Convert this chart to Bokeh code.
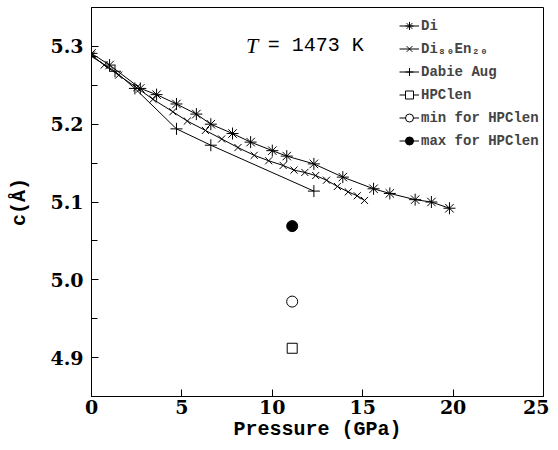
from bokeh.plotting import figure
from bokeh.models import Range1d, Label, Legend, LegendItem, FixedTicker, NumeralTickFormatter
from bokeh.embed import file_html
from bokeh.resources import INLINE

# Di
di_p = [0.0, 1.0, 2.7, 3.6, 4.7, 5.8, 6.6, 7.8, 8.8, 10.0, 10.8, 12.3, 13.9, 15.6, 16.5, 17.9, 18.8, 19.8]
di_c = [5.291, 5.276, 5.246, 5.238, 5.226, 5.213, 5.200, 5.188, 5.177, 5.166, 5.159, 5.149, 5.132, 5.117, 5.111, 5.103, 5.100, 5.092]

# Di80En20
de_p = [0.0, 0.7, 1.5, 2.5, 3.4, 4.5, 5.3, 6.3, 7.2, 8.1, 9.0, 9.8, 10.6, 11.2, 11.8, 12.4, 13.0, 13.6, 14.2, 14.7, 15.1]
de_c = [5.289, 5.276, 5.263, 5.247, 5.232, 5.216, 5.204, 5.192, 5.181, 5.170, 5.160, 5.153, 5.147, 5.141, 5.138, 5.134, 5.128, 5.120, 5.113, 5.108, 5.102]

# Dabie Aug
da_p = [0.0, 1.3, 2.4, 4.7, 6.6, 12.3]
da_c = [5.287, 5.268, 5.246, 5.194, 5.173, 5.114]

# HPClen and its bounds
hp_p = [11.1]
hp_c = [4.912]
mn_p = [11.1]
mn_c = [4.972]
mx_p = [11.1]
mx_c = [5.069]

x_ticks = [0, 5, 10, 15, 20, 25]
y_ticks = [4.9, 5.0, 5.1, 5.2, 5.3]
y_minor = [4.85, 4.9, 4.95, 5.0, 5.05, 5.1, 5.15, 5.2, 5.25, 5.3, 5.35]

MONO = "Liberation Mono"
SERIF = "DejaVu Serif"

p = figure(frame_width=452, frame_height=389, output_backend="svg", toolbar_location=None,
           x_range=Range1d(0, 25), y_range=Range1d(4.85, 5.35),
           min_border_left=91, min_border_right=6, min_border_top=7, min_border_bottom=44)
p.grid.visible = False
p.outline_line_color = "black"
p.outline_line_width = 1
p.background_fill_color = "white"
p.border_fill_color = "white"

p.xaxis.ticker = FixedTicker(ticks=x_ticks)
p.yaxis.ticker = FixedTicker(ticks=y_ticks, minor_ticks=y_minor)
p.yaxis.formatter = NumeralTickFormatter(format="0.0")
for ax in (p.xaxis, p.yaxis):
    ax.axis_line_color = "black"
    ax.major_tick_line_color = "black"
    ax.minor_tick_line_color = "black"
    ax.major_tick_in = 7
    ax.major_tick_out = 0
    ax.minor_tick_in = 6
    ax.minor_tick_out = 0
    ax.major_label_text_font = SERIF
    ax.major_label_text_font_style = "bold"
    ax.major_label_text_font_size = "19px"
    ax.major_label_text_color = "black"
    ax.axis_label_text_font = MONO
    ax.axis_label_text_font_style = "bold"
    ax.axis_label_text_font_size = "20px"
    ax.axis_label_text_color = "black"
p.xaxis.minor_tick_line_color = None
p.xaxis.axis_label = "Pressure (GPa)"
p.yaxis.axis_label = "c(Å)"
p.xaxis.major_label_standoff = 3
p.xaxis.axis_label_standoff = 1
p.yaxis.major_label_standoff = 8
p.yaxis.axis_label_standoff = 16

kw = dict(color="black", line_width=1)
l1 = p.line(di_p, di_c, **kw)
m1 = p.scatter(di_p, di_c, marker="asterisk", size=12, line_color="black", line_width=1)
l2 = p.line(de_p, de_c, **kw)
m2 = p.scatter(de_p, de_c, marker="x", size=10, line_color="black", line_width=1)
l3 = p.line(da_p, da_c, **kw)
m3 = p.scatter(da_p, da_c, marker="cross", size=12, line_color="black", line_width=1)
l4 = p.line(hp_p, hp_c, **kw)
m4 = p.scatter(hp_p, hp_c, marker="square", size=10, line_color="black", fill_color="white", line_width=1)
l5 = p.line(mn_p, mn_c, **kw)
m5 = p.scatter(mn_p, mn_c, marker="circle", size=11, line_color="black", fill_color="white", line_width=1)
l6 = p.line(mx_p, mx_c, **kw)
m6 = p.scatter(mx_p, mx_c, marker="circle", size=11, line_color="black", fill_color="black", line_width=1)

legend = Legend(items=[
    LegendItem(label="Di", renderers=[l1, m1]),
    LegendItem(label="Di₈₀En₂₀", renderers=[l2, m2]),
    LegendItem(label="Dabie Aug", renderers=[l3, m3]),
    LegendItem(label="HPClen", renderers=[l4, m4]),
    LegendItem(label="min for HPClen", renderers=[l5, m5]),
    LegendItem(label="max for HPClen", renderers=[l6, m6]),
], location=(308, 244))
legend.border_line_color = None
legend.background_fill_alpha = 0
legend.label_text_font = MONO
legend.label_text_font_style = "bold"
legend.label_text_font_size = "14px"
legend.glyph_width = 20
legend.glyph_height = 23
legend.label_height = 23
legend.label_standoff = 2
legend.spacing = 0
legend.padding = 4
legend.margin = 0
p.add_layout(legend)

p.add_layout(Label(x=8.55, y=5.301, text="T", text_font="Liberation Serif", text_font_style="italic",
                   text_font_size="22px", text_baseline="middle", text_color="black"))
p.add_layout(Label(x=9.75, y=5.301, text="= 1473 K", text_font=MONO,
                   text_font_size="20px", text_baseline="middle", text_color="black"))

open("out.html", "w").write(file_html(p, INLINE))
